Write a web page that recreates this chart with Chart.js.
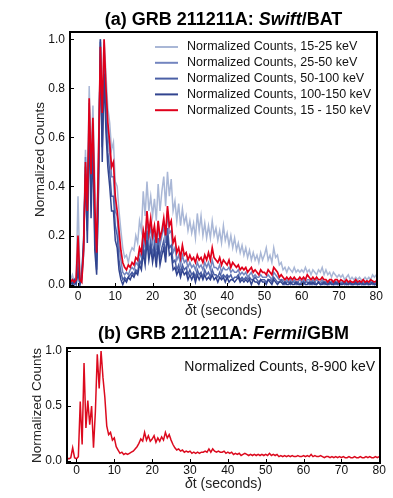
<!DOCTYPE html>
<html>
<head>
<meta charset="utf-8">
<script src="https://cdn.jsdelivr.net/npm/chart.js@4"></script>
<style>
  html, body { margin: 0; padding: 0; background: #fff; }
  #wrap { position: relative; width: 393px; height: 498px; }
  canvas { position: absolute; left: 0; }
  #batCanvas { top: 0; }
  #gbmCanvas { top: 320px; }
</style>
</head>
<body>
<div id="wrap">
  <canvas id="batCanvas" width="393" height="320"></canvas>
  <canvas id="gbmCanvas" width="393" height="178"></canvas>
</div>
<script>
// light curves, 0.5 s bins, first bin at t = -2.5 s, last at t = 80 s
const BIN_START = -2.5;
const BIN_WIDTH = 0.5;

const batLabels = [
  'Normalized Counts, 15-25 keV',
  'Normalized Counts, 25-50 keV',
  'Normalized Counts, 50-100 keV',
  'Normalized Counts, 100-150 keV',
  'Normalized Counts, 15 - 150 keV'
];

const bat15_25 = [
  0.03, 0.02, 0.04, 0.01, 0.03,
  0.36, 0.05, 0.02, 0.20, 0.55, 0.35, 0.81, 0.50, 0.73, 0.42,
  0.18, 0.58, 0.92, 0.74, 1.00, 0.86, 0.72, 0.66, 0.55, 0.58,
  0.42, 0.40, 0.30, 0.22, 0.15, 0.11, 0.12, 0.09, 0.13, 0.15,
  0.14, 0.20, 0.17, 0.26, 0.22, 0.38, 0.28, 0.42, 0.30, 0.36,
  0.28, 0.35, 0.26, 0.41, 0.30, 0.38, 0.44, 0.32, 0.46, 0.36,
  0.43, 0.30, 0.34, 0.26, 0.33, 0.24, 0.31, 0.25, 0.28, 0.22,
  0.26, 0.21, 0.25, 0.19, 0.29, 0.22, 0.28, 0.20, 0.25, 0.19,
  0.24, 0.19, 0.26, 0.20, 0.23, 0.18, 0.22, 0.17, 0.24, 0.18,
  0.21, 0.16, 0.20, 0.15, 0.19, 0.14, 0.17, 0.13, 0.16, 0.12,
  0.15, 0.11, 0.14, 0.10, 0.13, 0.10, 0.12, 0.09, 0.13, 0.10,
  0.12, 0.15, 0.10, 0.12, 0.09, 0.15, 0.11, 0.12, 0.08, 0.09,
  0.06, 0.07, 0.05, 0.07, 0.06, 0.05, 0.07, 0.05, 0.06, 0.05,
  0.06, 0.05, 0.07, 0.05, 0.06, 0.04, 0.06, 0.05, 0.04, 0.06,
  0.05, 0.07, 0.04, 0.06, 0.04, 0.05, 0.03, 0.05, 0.04, 0.03,
  0.04, 0.03, 0.04, 0.02, 0.03, 0.04, 0.02, 0.03, 0.02, 0.03,
  0.02, 0.03, 0.02, 0.02, 0.03, 0.02, 0.03, 0.02, 0.04, 0.03,
  0.04
];

const bat25_50 = [
  0.01, 0.01, 0.02, 0.00, 0.02,
  0.15, 0.01, 0.02, 0.12, 0.52, 0.27, 0.74, 0.42, 0.66, 0.27,
  0.10, 0.48, 1.00, 0.62, 0.96, 0.76, 0.62, 0.54, 0.44, 0.44,
  0.30, 0.28, 0.16, 0.10, 0.05, 0.04, 0.05, 0.04, 0.06, 0.07,
  0.06, 0.09, 0.08, 0.13, 0.11, 0.21, 0.15, 0.28, 0.18, 0.24,
  0.17, 0.22, 0.14, 0.25, 0.16, 0.20, 0.24, 0.17, 0.30, 0.21,
  0.22, 0.13, 0.15, 0.10, 0.12, 0.08, 0.12, 0.09, 0.10, 0.07,
  0.09, 0.07, 0.08, 0.06, 0.09, 0.07, 0.08, 0.06, 0.09, 0.07,
  0.09, 0.06, 0.10, 0.07, 0.07, 0.06, 0.08, 0.05, 0.07, 0.06,
  0.06, 0.07, 0.05, 0.06, 0.05, 0.05, 0.06, 0.04, 0.05, 0.04,
  0.05, 0.03, 0.04, 0.05, 0.03, 0.04, 0.03, 0.03, 0.04, 0.03,
  0.03, 0.03, 0.04, 0.03, 0.02, 0.05, 0.04, 0.03, 0.02, 0.02,
  0.02, 0.01, 0.02, 0.01, 0.02, 0.01, 0.02, 0.01, 0.01, 0.02,
  0.01, 0.02, 0.01, 0.02, 0.02, 0.01, 0.02, 0.01, 0.02, 0.01,
  0.01, 0.02, 0.01, 0.01, 0.00, 0.01, 0.01, 0.00, 0.01, 0.01,
  0.00, 0.01, 0.01, 0.00, 0.01, 0.00, 0.01, 0.00, 0.00, 0.01,
  0.00, 0.01, 0.00, 0.01, 0.00, 0.01, 0.00, 0.01, 0.01, 0.00,
  0.01
];

const bat50_100 = [
  0.00, 0.00, 0.01, 0.00, 0.01,
  0.08, 0.00, 0.03, 0.15, 0.48, 0.22, 0.70, 0.34, 0.62, 0.20,
  0.06, 0.42, 0.99, 0.56, 0.90, 0.68, 0.54, 0.46, 0.36, 0.36,
  0.24, 0.20, 0.10, 0.05, 0.02, 0.03, 0.02, 0.03, 0.04, 0.05,
  0.04, 0.06, 0.05, 0.10, 0.08, 0.16, 0.11, 0.22, 0.13, 0.18,
  0.12, 0.17, 0.10, 0.19, 0.11, 0.15, 0.18, 0.12, 0.23, 0.15,
  0.16, 0.09, 0.10, 0.06, 0.08, 0.05, 0.08, 0.06, 0.07, 0.04,
  0.06, 0.04, 0.05, 0.03, 0.06, 0.04, 0.05, 0.03, 0.06, 0.04,
  0.05, 0.03, 0.06, 0.04, 0.04, 0.03, 0.05, 0.03, 0.04, 0.03,
  0.04, 0.03, 0.04, 0.02, 0.03, 0.03, 0.04, 0.02, 0.03, 0.02,
  0.03, 0.02, 0.03, 0.02, 0.02, 0.03, 0.02, 0.01, 0.02, 0.02,
  0.02, 0.01, 0.02, 0.02, 0.01, 0.03, 0.02, 0.01, 0.01, 0.02,
  0.01, 0.00, 0.01, 0.01, 0.00, 0.01, 0.01, 0.00, 0.01, 0.00,
  0.01, 0.00, 0.01, 0.01, 0.00, 0.01, 0.00, 0.01, 0.00, 0.01,
  0.00, 0.01, 0.00, 0.01, 0.00, 0.00, 0.01, 0.00, 0.00, 0.01,
  0.00, 0.00, 0.01, 0.00, 0.00, 0.01, 0.00, 0.00, 0.01, 0.00,
  0.00, 0.01, 0.00, 0.00, 0.01, 0.00, 0.00, 0.01, 0.00, 0.00,
  0.01
];

const bat100_150 = [
  0.00, 0.01, 0.00, 0.02, 0.00,
  0.05, 0.00, 0.04, 0.18, 0.45, 0.17, 0.66, 0.27, 0.58, 0.14,
  0.04, 0.38, 1.00, 0.50, 0.86, 0.62, 0.48, 0.40, 0.30, 0.30,
  0.18, 0.15, 0.06, 0.02, 0.00, 0.02, 0.01, 0.03, 0.02, 0.04,
  0.03, 0.05, 0.04, 0.08, 0.06, 0.13, 0.08, 0.18, 0.10, 0.15,
  0.09, 0.14, 0.07, 0.16, 0.08, 0.12, 0.15, 0.09, 0.20, 0.12,
  0.13, 0.06, 0.07, 0.04, 0.06, 0.03, 0.06, 0.04, 0.05, 0.02,
  0.04, 0.02, 0.04, 0.01, 0.04, 0.02, 0.04, 0.02, 0.04, 0.02,
  0.03, 0.02, 0.04, 0.02, 0.03, 0.01, 0.03, 0.02, 0.03, 0.01,
  0.03, 0.01, 0.02, 0.02, 0.01, 0.02, 0.03, 0.01, 0.02, 0.01,
  0.02, 0.01, 0.02, 0.00, 0.02, 0.01, 0.01, 0.00, 0.02, 0.01,
  0.01, 0.00, 0.02, 0.01, 0.00, 0.02, 0.01, 0.00, 0.01, 0.01,
  0.00, 0.01, 0.00, 0.00, 0.01, 0.00, 0.00, 0.01, 0.00, 0.00,
  0.00, 0.01, 0.00, 0.00, 0.01, 0.00, 0.01, 0.00, 0.00, 0.01,
  0.00, 0.00, 0.01, 0.00, 0.00, 0.01, 0.00, 0.00, 0.01, 0.00,
  0.01, 0.00, 0.00, 0.01, 0.00, 0.00, 0.01, 0.00, 0.00, 0.01,
  0.00, 0.00, 0.01, 0.00, 0.00, 0.01, 0.00, 0.00, 0.01, 0.00,
  0.00
];

const bat15_150 = [
  0.01, 0.01, 0.02, 0.01, 0.02,
  0.20, 0.02, 0.01, 0.14, 0.50, 0.30, 0.76, 0.45, 0.68, 0.32,
  0.13, 0.52, 0.97, 0.70, 1.00, 0.80, 0.66, 0.58, 0.48, 0.50,
  0.36, 0.30, 0.22, 0.14, 0.09, 0.07, 0.06, 0.08, 0.07, 0.09,
  0.08, 0.11, 0.10, 0.15, 0.13, 0.22, 0.18, 0.30, 0.21, 0.27,
  0.20, 0.24, 0.17, 0.26, 0.19, 0.22, 0.27, 0.20, 0.32, 0.24,
  0.26, 0.17, 0.19, 0.13, 0.15, 0.11, 0.16, 0.12, 0.13, 0.10,
  0.12, 0.10, 0.11, 0.09, 0.12, 0.10, 0.11, 0.09, 0.12, 0.10,
  0.13, 0.10, 0.15, 0.11, 0.10, 0.09, 0.11, 0.08, 0.10, 0.09,
  0.08, 0.10, 0.07, 0.09, 0.08, 0.07, 0.08, 0.06, 0.07, 0.06,
  0.07, 0.05, 0.06, 0.07, 0.05, 0.06, 0.05, 0.04, 0.06, 0.05,
  0.05, 0.04, 0.06, 0.05, 0.04, 0.07, 0.06, 0.05, 0.03, 0.04,
  0.03, 0.02, 0.03, 0.02, 0.03, 0.02, 0.03, 0.02, 0.02, 0.03,
  0.02, 0.03, 0.02, 0.04, 0.03, 0.02, 0.03, 0.02, 0.03, 0.02,
  0.02, 0.03, 0.02, 0.02, 0.01, 0.02, 0.02, 0.01, 0.02, 0.02,
  0.01, 0.02, 0.015, 0.01, 0.02, 0.01, 0.015, 0.01, 0.01, 0.02,
  0.01, 0.015, 0.01, 0.02, 0.01, 0.015, 0.01, 0.02, 0.015, 0.01,
  0.015
];

const gbmLabel = 'Normalized Counts, 8-900 keV';
const gbm8_900 = [
  0.03, 0.02, 0.03, 0.12, 0.03,
  0.02, 0.04, 0.54, 0.15, 0.89, 0.30, 0.55, 0.33, 0.50, 0.12,
  0.45, 0.97, 0.66, 1.00, 0.76, 0.58, 0.32, 0.24, 0.26, 0.19,
  0.21, 0.13, 0.10, 0.07, 0.08, 0.06, 0.07, 0.06, 0.07, 0.08,
  0.09, 0.11, 0.13, 0.16, 0.20, 0.18, 0.26, 0.19, 0.23, 0.18,
  0.20, 0.23, 0.17, 0.21, 0.18, 0.22, 0.19, 0.26, 0.21, 0.24,
  0.19, 0.15, 0.12, 0.10, 0.11, 0.09, 0.10, 0.08, 0.09, 0.08,
  0.09, 0.07, 0.08, 0.07, 0.08, 0.07, 0.08, 0.08, 0.09, 0.08,
  0.11, 0.08, 0.11, 0.09, 0.08, 0.09, 0.08, 0.08, 0.09, 0.07,
  0.08, 0.07, 0.08, 0.06, 0.07, 0.06, 0.07, 0.05, 0.06, 0.07,
  0.06, 0.05, 0.06, 0.05, 0.06, 0.05, 0.06, 0.05, 0.06, 0.05,
  0.06, 0.05, 0.07, 0.05, 0.06, 0.05, 0.06, 0.04, 0.05, 0.04,
  0.05, 0.04, 0.05, 0.04, 0.05, 0.04, 0.04, 0.05, 0.04, 0.04,
  0.05, 0.04, 0.05, 0.04, 0.06, 0.04, 0.05, 0.04, 0.04, 0.05,
  0.04, 0.03, 0.04, 0.04, 0.03, 0.04, 0.03, 0.04, 0.03, 0.04,
  0.03, 0.04, 0.03, 0.03, 0.04, 0.03, 0.03, 0.04, 0.03, 0.03,
  0.04, 0.03, 0.03, 0.04, 0.03, 0.04, 0.03, 0.03, 0.04, 0.03,
  0.04
];

const xTicks = [0, 10, 20, 30, 40, 50, 60, 70, 80];
const yTicksBat = [0.0, 0.2, 0.4, 0.6, 0.8, 1.0];
const yTicksGbm = [0.0, 0.5, 1.0];

const batColors = ['#a9b7d6', '#7385bf', '#4b60a6', '#31448f', '#e0001b'];
const FONT = "'Liberation Sans', Arial, Helvetica, sans-serif";

/* ---------------------------
   Helpers
   --------------------------- */

function toPoints(values) {
  return values.map((v, i) => ({ x: BIN_START + i * BIN_WIDTH, y: v }));
}

function drawRich(ctx, segs, cx, y) {
  let total = 0;
  segs.forEach(s => { ctx.font = s.font; s.w = ctx.measureText(s.text).width; total += s.w; });
  let x = cx - total / 2;
  ctx.textAlign = 'left';
  segs.forEach(s => { ctx.font = s.font; ctx.fillText(s.text, x, y); x += s.w; });
}

// frame, inward tick marks, titles and legend
const PanelDecor = {
  id: 'panelDecor',
  afterDatasetsDraw(chart, args, opts) {
    const ctx = chart.ctx;
    const a = chart.chartArea;
    const xs = chart.scales.x, ys = chart.scales.y;
    ctx.save();

    ctx.strokeStyle = '#000';
    ctx.lineWidth = 1;
    ctx.beginPath();
    xs.ticks.forEach(t => {
      const px = Math.round(xs.getPixelForValue(t.value)) + 0.5;
      ctx.moveTo(px, a.bottom); ctx.lineTo(px, a.bottom - 4);
    });
    ys.ticks.forEach(t => {
      const py = Math.round(ys.getPixelForValue(t.value)) + 0.5;
      ctx.moveTo(a.left, py); ctx.lineTo(a.left + 4, py);
    });
    ctx.stroke();

    ctx.lineWidth = 2;
    ctx.strokeRect(a.left, a.top, a.right - a.left, a.bottom - a.top);

    ctx.fillStyle = '#000';
    ctx.textBaseline = 'alphabetic';
    const cx = (a.left + a.right) / 2;
    drawRich(ctx, opts.title, cx, opts.titleY);

    ctx.fillStyle = '#222';
    drawRich(ctx, [
      { text: 'δ', font: 'italic 14px ' + FONT },
      { text: 't (seconds)', font: '14px ' + FONT }
    ], cx, opts.xTitleY);

    ctx.save();
    ctx.translate(opts.yTitleX, (a.top + a.bottom) / 2);
    ctx.rotate(-Math.PI / 2);
    ctx.font = '13.5px ' + FONT;
    ctx.textAlign = 'center';
    ctx.textBaseline = 'middle';
    ctx.fillText('Normalized Counts', 0, 0);
    ctx.restore();

    const lg = opts.legend;
    if (lg) {
      ctx.font = lg.font;
      ctx.textBaseline = 'middle';
      chart.data.datasets.forEach((ds, i) => {
        const y = lg.y0 + i * lg.step;
        if (lg.lineLen) {
          ctx.strokeStyle = ds.borderColor;
          ctx.lineWidth = 2;
          ctx.beginPath();
          ctx.moveTo(lg.x0, y); ctx.lineTo(lg.x0 + lg.lineLen, y);
          ctx.stroke();
        }
        ctx.fillStyle = '#111';
        ctx.textAlign = lg.align || 'left';
        ctx.fillText(ds.label, lg.textX, y);
      });
    }
    ctx.restore();
  }
};

function axisOptions(cfg) {
  return {
    x: {
      type: 'linear',
      min: cfg.xMin, max: cfg.xMax,
      grid: { display: false, drawTicks: false },
      border: { display: false },
      afterFit: s => { s.height = cfg.xHeight; },
      afterBuildTicks: s => { s.ticks = xTicks.map(v => ({ value: v })); },
      ticks: {
        padding: cfg.xPad, maxRotation: 0, color: '#111',
        font: { family: FONT, size: 12 },
        callback: v => String(v)
      }
    },
    y: {
      type: 'linear',
      min: cfg.yMin, max: cfg.yMax,
      grid: { display: false, drawTicks: false },
      border: { display: false },
      afterFit: s => { s.width = cfg.yWidth; },
      afterBuildTicks: s => { s.ticks = cfg.yTicks.map(v => ({ value: v })); },
      ticks: {
        padding: 5, color: '#111',
        font: { family: FONT, size: 12 },
        callback: v => Number(v).toFixed(1)
      }
    }
  };
}

/* ---------------------------
   Panel (a): Swift/BAT
   --------------------------- */

const batSeries = [bat15_25, bat25_50, bat50_100, bat100_150, bat15_150];

new Chart(document.getElementById('batCanvas'), {
  type: 'line',
  data: {
    datasets: batSeries.map((vals, i) => ({
      label: batLabels[i],
      data: toPoints(vals),
      borderColor: batColors[i],
      borderWidth: i === 4 ? 1.7 : 1.5,
      pointRadius: 0,
      tension: 0,
      fill: false,
      order: batSeries.length - 1 - i
    }))
  },
  options: {
    responsive: false,
    animation: false,
    devicePixelRatio: 1,
    layout: { padding: { top: 32, right: 16, left: 0, bottom: 0 } },
    scales: axisOptions({
      xMin: -2.15, xMax: 80.2, yMin: -0.01, yMax: 1.03,
      yTicks: yTicksBat, xHeight: 33, yWidth: 70, xPad: 2
    }),
    plugins: {
      legend: { display: false },
      tooltip: { enabled: false },
      panelDecor: {
        title: [
          { text: '(a) GRB 211211A: ', font: 'bold 18px ' + FONT },
          { text: 'Swift', font: 'italic bold 18px ' + FONT },
          { text: '/BAT', font: 'bold 18px ' + FONT }
        ],
        titleY: 25,
        xTitleY: 315,
        yTitleX: 40,
        legend: { x0: 155, lineLen: 23, textX: 187, y0: 47, step: 15.8, font: '12.5px ' + FONT }
      }
    }
  },
  plugins: [PanelDecor]
});

/* ---------------------------
   Panel (b): Fermi/GBM
   --------------------------- */

new Chart(document.getElementById('gbmCanvas'), {
  type: 'line',
  data: {
    datasets: [{
      label: gbmLabel,
      data: toPoints(gbm8_900),
      borderColor: '#dc0a1e',
      borderWidth: 1.5,
      pointRadius: 0,
      tension: 0,
      fill: false
    }]
  },
  options: {
    responsive: false,
    animation: false,
    devicePixelRatio: 1,
    layout: { padding: { top: 28, right: 13, left: 0, bottom: 0 } },
    scales: axisOptions({
      xMin: -2.5, xMax: 80.2, yMin: -0.018, yMax: 1.027,
      yTicks: yTicksGbm, xHeight: 35, yWidth: 67, xPad: 0
    }),
    plugins: {
      legend: { display: false },
      tooltip: { enabled: false },
      panelDecor: {
        title: [
          { text: '(b) GRB 211211A: ', font: 'bold 18px ' + FONT },
          { text: 'Fermi', font: 'italic bold 18px ' + FONT },
          { text: '/GBM', font: 'bold 18px ' + FONT }
        ],
        titleY: 19,
        xTitleY: 168,
        yTitleX: 37,
        legend: { x0: 0, lineLen: 0, textX: 375, align: 'right', y0: 47, step: 0, font: '14px ' + FONT }
      }
    }
  },
  plugins: [PanelDecor]
});
</script>
</body>
</html>
